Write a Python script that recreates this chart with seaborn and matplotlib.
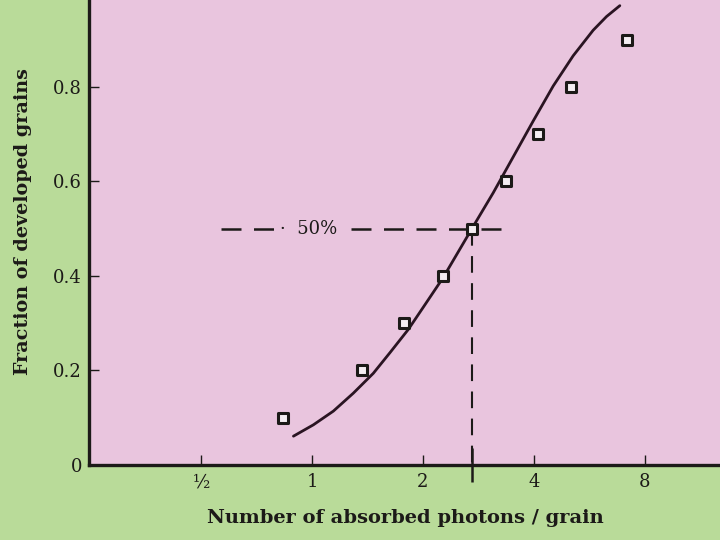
import seaborn as sns
import matplotlib.pyplot as plt
import pandas as pd
import numpy as np

# measured points (photons per grain, fraction developed)
photons = [0.835, 1.37, 1.78, 2.27, 2.72, 3.36, 4.1, 5.04, 7.15]
fraction = [0.10, 0.20, 0.30, 0.40, 0.50, 0.60, 0.70, 0.80, 0.90]

# theoretical curve
curve_x = [0.890, 1.008, 1.142, 1.294, 1.466, 1.628, 1.825, 2.004,
           2.266, 2.738, 3.102, 3.515, 3.983, 4.513, 5.113, 5.793, 6.298, 6.844]
curve_y = [0.061, 0.085, 0.114, 0.152, 0.194, 0.238, 0.287, 0.334,
           0.396, 0.505, 0.576, 0.652, 0.728, 0.802, 0.866, 0.920, 0.949, 0.972]

xticks = [0.5, 1, 2, 4, 8]
xtick_labels = ['½', '1', '2', '4', '8']
yticks = [0, 0.2, 0.4, 0.6, 0.8]
ytick_labels = ['0', '0.2', '0.4', '0.6', '0.8']

green = '#b9db99'
pink = '#e9c5de'
ink = '#1c1a18'

points = pd.DataFrame({'photons': photons, 'fraction': fraction})
curve = pd.DataFrame({'x': curve_x, 'y': curve_y})

sns.set_style('white')
plt.rcParams['font.family'] = ['DejaVu Serif']

fig = plt.figure(figsize=(7.2, 5.4), dpi=100, facecolor=green)
ax = fig.add_axes([89 / 720, 75 / 540, 631 / 720, 465 / 540])
ax.set_facecolor(pink)

# 50% guide lines
ax.plot([0.566, 3.38], [0.5, 0.5], color=ink, lw=1.8, dashes=(8, 5), zorder=2)
ax.plot([2.72, 2.72], [0.5, 0.0], color=ink, lw=1.5, dashes=(8, 5), zorder=2)
ax.text(0.98, 0.5, '·  50%', ha='center', va='center', fontsize=13, color=ink,
        bbox=dict(facecolor=pink, edgecolor='none', pad=2), zorder=3)

sns.lineplot(data=curve, x='x', y='y', sort=False, color='#2a1422', lw=2,
             ax=ax, zorder=4)
sns.scatterplot(data=points, x='photons', y='fraction', marker='s', s=60,
                color='#f4eef2', edgecolor=ink, linewidth=2.2, ax=ax, zorder=5)

ax.set_xscale('log', base=2)
ax.set_xlim(0.248, 12.8)
ax.set_ylim(0, 0.984)
ax.set_xticks(xticks)
ax.set_xticklabels(xtick_labels)
ax.set_xticks([2.72], minor=True)
ax.set_xticklabels([''], minor=True)
ax.set_yticks(yticks)
ax.set_yticklabels(ytick_labels)

ax.tick_params(bottom=True, left=True, which='both')
ax.tick_params(axis='both', which='major', direction='in', length=7, width=1,
               color=ink, labelcolor=ink, labelsize=13, pad=5)
ax.tick_params(axis='x', which='minor', direction='inout', length=24, width=1.8,
               color=ink)
ax.tick_params(axis='x', which='major', pad=6)

for side in ['top', 'right']:
    ax.spines[side].set_visible(False)
for side in ['left', 'bottom']:
    ax.spines[side].set_color(ink)
    ax.spines[side].set_linewidth(2.4)

ax.set_xlabel('Number of absorbed photons / grain', fontsize=14,
              fontweight='bold', color=ink)
ax.set_ylabel('Fraction of developed grains', fontsize=13.8,
              fontweight='bold', color=ink)
ax.xaxis.set_label_coords((405 - 89) / 631, -44 / 465)
ax.yaxis.set_label_coords(-57 / 631, (465 - 222) / 465)

fig.savefig('out.png', dpi=100, facecolor=green)
